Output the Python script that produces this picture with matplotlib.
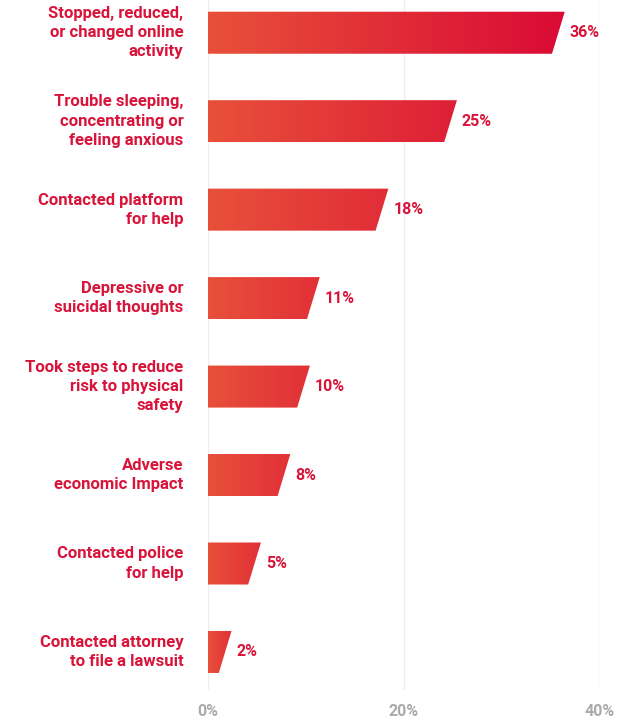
import numpy as np
import matplotlib.pyplot as plt
from matplotlib.patches import Polygon
from matplotlib.colors import LinearSegmentedColormap

categories = [
    "Stopped, reduced,\nor changed online\nactivity",
    "Trouble sleeping,\nconcentrating or\nfeeling anxious",
    "Contacted platform\nfor help",
    "Depressive or\nsuicidal thoughts",
    "Took steps to reduce\nrisk to physical\nsafety",
    "Adverse\neconomic Impact",
    "Contacted police\nfor help",
    "Contacted attorney\nto file a lawsuit",
]
values = [36, 25, 18, 11, 10, 8, 5, 2]
ticks = [0, 20, 40]

red = "#D9143A"
cmap = LinearSegmentedColormap.from_list("rg", ["#E8503A", "#DA0A35"])

plt.rcParams["font.family"] = ["Roboto", "DejaVu Sans"]
fig = plt.figure(figsize=(6.2, 7.21), dpi=100)
ax = fig.add_axes([208 / 620, 1 - 690 / 721, 392 / 620, 690 / 721])
ax.set_xlim(0, 40)
ax.set_ylim(7.43, -0.37)

for t in ticks:
    ax.axvline(t, color="#eeeeee", lw=1, zorder=0)

h = 0.475
grad = np.linspace(0, 1, 256).reshape(1, -1)
for i, (cat, v) in enumerate(zip(categories, values)):
    top, bot = i - h / 2, i + h / 2
    poly = Polygon([(0, top), (v + 0.4, top), (v - 0.9, bot), (0, bot)],
                   closed=True, facecolor="none", edgecolor="none")
    ax.add_patch(poly)
    end = max(0.45, v / 36)
    im = ax.imshow(grad * end, cmap=cmap, vmin=0, vmax=1, aspect="auto",
                   extent=[0, v + 0.4, bot, top], zorder=2)
    im.set_clip_path(poly)
    ax.text(v + 0.9, i, f"{v}%", va="center", ha="left", color=red,
            fontsize=11.5, fontweight="bold")
    ax.text(-2.5, i, cat, va="center", ha="right", color=red,
            fontsize=12, fontweight="bold", linespacing=1.35)

ax.set_ylim(7.43, -0.37)
ax.set_xlim(0, 40)
ax.set_xticks(ticks)
ax.set_xticklabels([f"{t}%" for t in ticks], color="#aaaaaa",
                   fontsize=11.5, fontweight="bold")
ax.tick_params(axis="x", length=0, pad=10)
ax.set_yticks([])
for s in ax.spines.values():
    s.set_visible(False)

fig.savefig("out.png", dpi=100)
